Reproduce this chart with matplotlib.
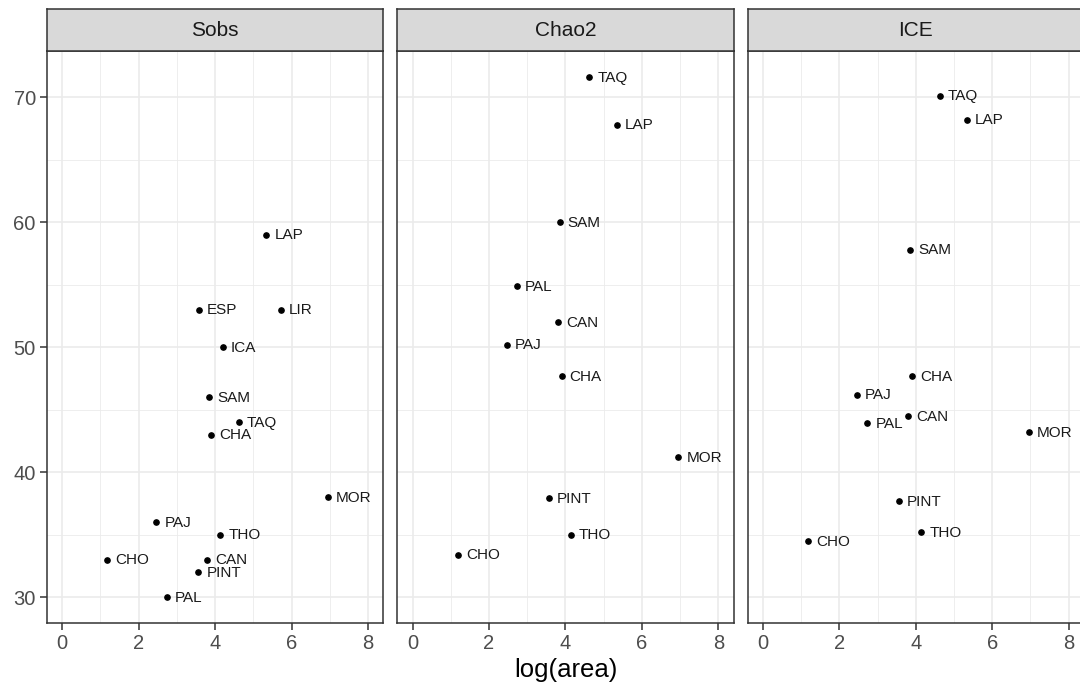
import numpy as np
import matplotlib
matplotlib.use('Agg')
import matplotlib.pyplot as plt
from matplotlib.ticker import MultipleLocator

plt.rcParams['font.family'] = ['Liberation Sans', 'DejaVu Sans']

# сайты и log(area)
sites = ['CHO', 'PAJ', 'PAL', 'PINT', 'ESP', 'CAN', 'SAM', 'CHA', 'THO', 'ICA', 'TAQ', 'LAP', 'LIR', 'MOR']
log_area = [1.18, 2.46, 2.73, 3.56, 3.57, 3.80, 3.85, 3.90, 4.14, 4.20, 4.62, 5.34, 5.72, 6.95]

# оценки богатства видов
sobs = [33, 36, 30, 32, 53, 33, 46, 43, 35, 50, 44, 59, 53, 38]
chao2 = [33.4, 50.2, 54.9, 37.9, np.nan, 52.0, 60.0, 47.7, 35.0, np.nan, 71.6, 67.8, np.nan, 41.2]
ice = [34.5, 46.2, 43.9, 37.7, np.nan, 44.5, 57.8, 47.7, 35.2, np.nan, 70.1, 68.2, np.nan, 43.2]

panels = ['Sobs', 'Chao2', 'ICE']
values = [sobs, chao2, ice]

fig = plt.figure(figsize=(10.8, 6.93), dpi=100)

all_y = np.array(sobs + chao2 + ice, dtype=float)
ymin, ymax = np.nanmin(all_y), np.nanmax(all_y)
pad = 0.05 * (ymax - ymin)

lefts = [0.0435, 0.3679, 0.6923]
w = 0.3114
bottom, h = 0.1006, 0.8258
strip_h = 0.0606

for i, (name, vals) in enumerate(zip(panels, values)):
    ax = fig.add_axes([lefts[i], bottom, w, h])
    x = np.array(log_area)
    y = np.array(vals, dtype=float)
    ok = ~np.isnan(y)
    ax.plot(x[ok], y[ok], 'o', color='black', markersize=3.8, zorder=3)
    for s, xi, yi in zip(np.array(sites)[ok], x[ok], y[ok]):
        ax.annotate(s, (xi, yi), xytext=(5.8, -0.5), textcoords='offset points',
                    ha='left', va='center', fontsize=11, color='#1a1a1a', zorder=4)
    ax.set_xlim(-0.4, 8.4)
    ax.set_ylim(ymin - pad, ymax + pad)
    ax.xaxis.set_major_locator(MultipleLocator(2))
    ax.xaxis.set_minor_locator(MultipleLocator(1))
    ax.yaxis.set_major_locator(MultipleLocator(10))
    ax.yaxis.set_minor_locator(MultipleLocator(5))
    ax.grid(which='major', color='#EBEBEB', linewidth=1.2, zorder=0)
    ax.grid(which='minor', color='#EBEBEB', linewidth=0.6, zorder=0)
    ax.set_axisbelow(True)
    for sp in ax.spines.values():
        sp.set_color('#333333')
        sp.set_linewidth(1.1)
    ax.tick_params(which='minor', length=0)
    ax.tick_params(which='major', length=5, width=1.1, color='#333333',
                   labelsize=14.5, labelcolor='#4D4D4D', pad=3)
    if i > 0:
        ax.tick_params(axis='y', which='both', left=False, labelleft=False)
    if i == 1:
        ax.set_xlabel('log(area)', fontsize=18.5, labelpad=3)

    # полоска с названием панели
    sax = fig.add_axes([lefts[i], bottom + h, w, strip_h])
    sax.set_facecolor('#D9D9D9')
    sax.set_xticks([])
    sax.set_yticks([])
    for sp in sax.spines.values():
        sp.set_color('#333333')
        sp.set_linewidth(1.1)
    sax.text(0.5, 0.5, name, ha='center', va='center', fontsize=15,
             color='#1A1A1A', transform=sax.transAxes)

plt.savefig('out.png', dpi=100)
